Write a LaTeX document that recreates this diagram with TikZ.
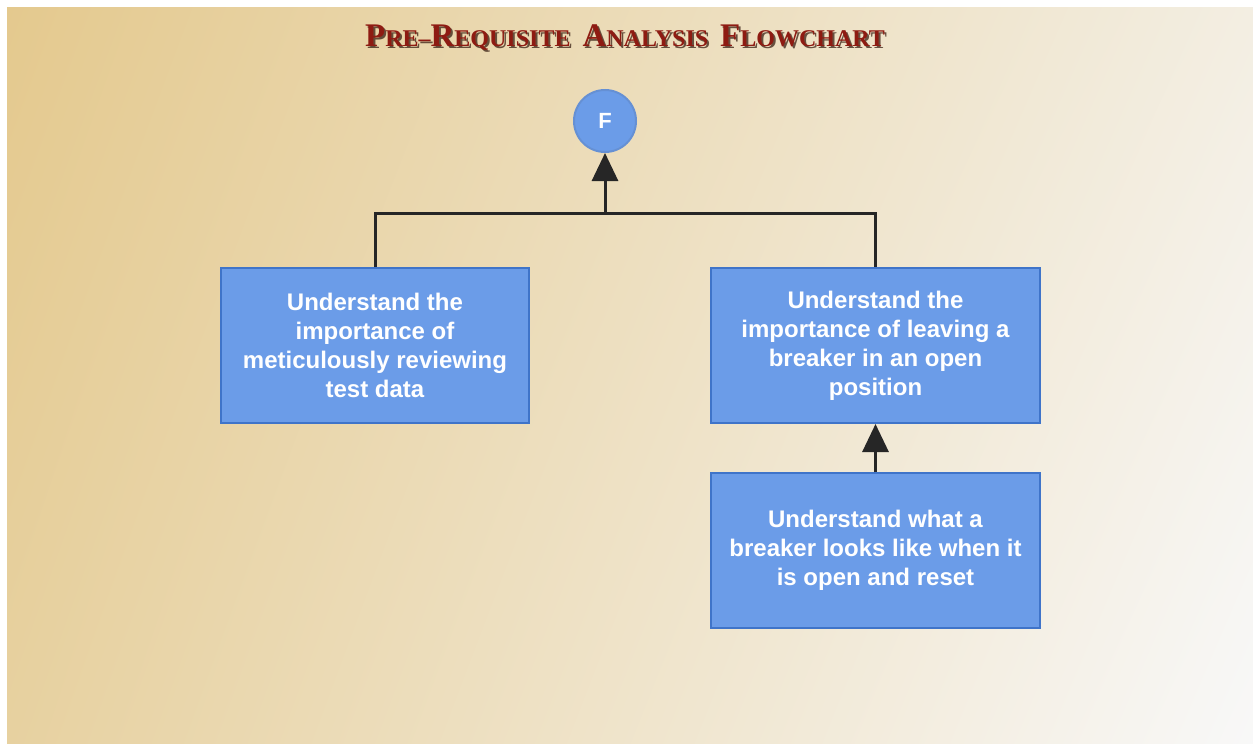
\documentclass[tikz,border=0pt]{standalone}
\usepackage{fontspec}
\setmainfont{Liberation Serif}
\setsansfont{Liberation Sans}
\usetikzlibrary{arrows.meta,shadings}

\definecolor{boxblue}{HTML}{6B9CE8}
\definecolor{boxedge}{HTML}{3F74C9}
\definecolor{titlered}{HTML}{8E1B12}
\definecolor{titleshade}{HTML}{3A2014}
\definecolor{bgul}{HTML}{E4C98E}
\definecolor{bgur}{HTML}{F3EEE2}
\definecolor{bgll}{HTML}{E7D1A0}
\definecolor{bglr}{HTML}{F8F8F8}

% fake small caps for the heading
\newcommand{\capletter}[1]{{\fontsize{33}{33}\selectfont #1}}
\newcommand{\pratitle}{\bfseries\fontsize{24}{24}\selectfont
  \capletter{P}RE--\capletter{R}EQUISITE\ \ \capletter{A}NALYSIS\ \ \capletter{F}LOWCHART}

\begin{document}
\begin{tikzpicture}[x=1pt, y=-1pt,
  stepbox/.style={draw=boxedge, line width=2pt, fill=boxblue, minimum width=#1,
    minimum height=155pt, align=center, text=white,
    font=\sffamily\bfseries\fontsize{24}{29}\selectfont},
  stepbox/.default=308pt,
  endpt/.style={circle, draw=boxedge!80!white, line width=2pt, fill=boxblue,
    minimum size=62pt, inner sep=0pt, text=white,
    font=\sffamily\bfseries\fontsize{22}{22}\selectfont},
  link/.style={line width=3pt, draw=black!85},
  to/.style={link, -{Triangle[width=26pt,length=28pt]}}]
  % background
  \useasboundingbox (0,0) rectangle (1253,744);
  \fill[white] (0,0) rectangle (1253,744);
  \shade[upper left=bgul, upper right=bgur, lower left=bgll, lower right=bglr]
    (7,7) rectangle (1253,744);

  % heading
  \node[text=titleshade, opacity=0.75] at (627,40) {\pratitle};
  \node[text=titlered] (title) at (625,38) {\pratitle};

  % nodes
  \node[endpt] (F) at (605,121) {F};
  \node[stepbox] (data) at (375,345.5)
    {Understand the\\importance of\\meticulously reviewing\\test data};
  \node[stepbox=329pt] (open) at (875.5,345.5)
    {Understand the\\importance of leaving a\\breaker in an open\\position};
  \node[stepbox=329pt] (look) at (875.5,550.5)
    {Understand what a\\breaker looks like when it\\is open and reset};

  % connectors
  \coordinate (bar) at (605,213);
  \draw[link] (data.north) |- (bar) -| (open.north);
  \draw[to] (bar) -- (F.south);
  \draw[to] (look.north) -- (open.south);
\end{tikzpicture}
\end{document}
